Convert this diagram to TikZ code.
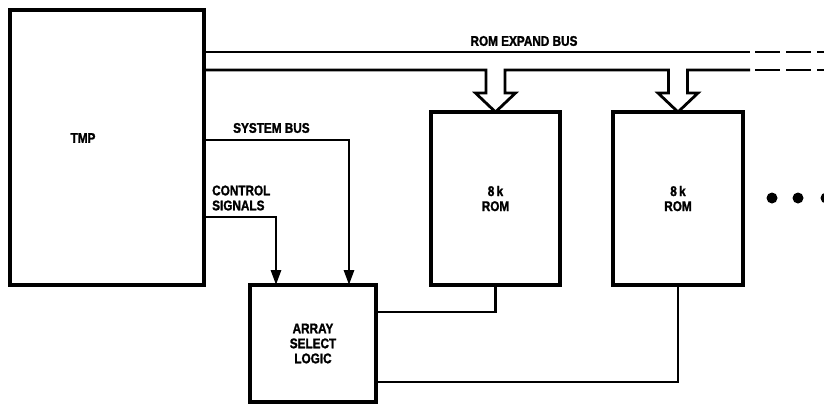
\documentclass[tikz,border=0pt]{standalone}
\usepackage{fontspec}
\newfontfamily\labfont[FakeStretch=0.84,FakeBold=1.5]{Liberation Sans Bold}
\usetikzlibrary{arrows.meta,calc}
\begin{document}
\begin{tikzpicture}[x=1pt,y=-1pt,
  box/.style={draw,line width=4.5pt,inner sep=0pt,outer sep=0pt,anchor=north west},
  wire/.style={line width=2.8pt},
  lab/.style={font=\labfont\fontsize{14}{15}\selectfont,align=center,inner sep=0pt},
  arr/.style={wire,-{Triangle[length=15pt,width=10pt]}},
  busdash/.style={wire,dash pattern=on 25pt off 6pt}
]
\useasboundingbox (0,0) rectangle (824,405);
% boxes
\node[box,minimum width=194pt,minimum height=275pt] (tmp) at (10,10) {};
\node[lab] (tmplab) at (83,138) {TMP};
\node[box,minimum width=129pt,minimum height=173pt,lab] (rom1) at (431,112) {8\,k\\ROM};
\node[box,minimum width=130pt,minimum height=173pt,lab] (rom2) at (613,112) {8\,k\\ROM};
\node[box,minimum width=126pt,minimum height=117pt,lab] (asl) at (250,285) {ARRAY\\SELECT\\LOGIC};
% labels
\node[lab] (buslab) at (524,41) {ROM EXPAND BUS};
\node[lab,anchor=west] (syslab) at (233,128) {SYSTEM BUS};
\node[lab,anchor=west,align=left] (ctllab) at (212,198) {CONTROL\\SIGNALS};
% ROM expand bus
\draw[wire] (tmp.east |- 0,52) -- (750,52);
\draw[busdash] (755,52) -- (830,52);
\draw[wire,line join=miter]
  (tmp.east |- 0,70) -- ($(rom1.north)+(-9.5,-42)$) -- ++(0,23) -- ++(-10.5,0)
  -- (rom1.north) -- ++(20,-19) -- ++(-10.5,0) -- ++(0,-23)
  -- ($(rom2.north)+(-9.5,-42)$) -- ++(0,23) -- ++(-10.5,0)
  -- (rom2.north) -- ++(20,-19) -- ++(-10.5,0) -- ++(0,-23)
  -- (750,70);
\draw[busdash] (755,70) -- (830,70);
% system bus and control signals
\draw[arr] (tmp.east |- 0,140) -| (asl.north -| 349,0);
\draw[arr] (tmp.east |- 0,217) -| (asl.north -| 276,0);
% ROM selects
\draw[wire] (rom1.south) |- (asl.east |- 0,312);
\draw[wire] (rom2.south) |- (asl.east |- 0,382);
% continuation dots
\fill (772,198) circle (5.5);
\fill (798,198) circle (5.5);
\fill (826,198) circle (5.5);
\end{tikzpicture}
\end{document}
